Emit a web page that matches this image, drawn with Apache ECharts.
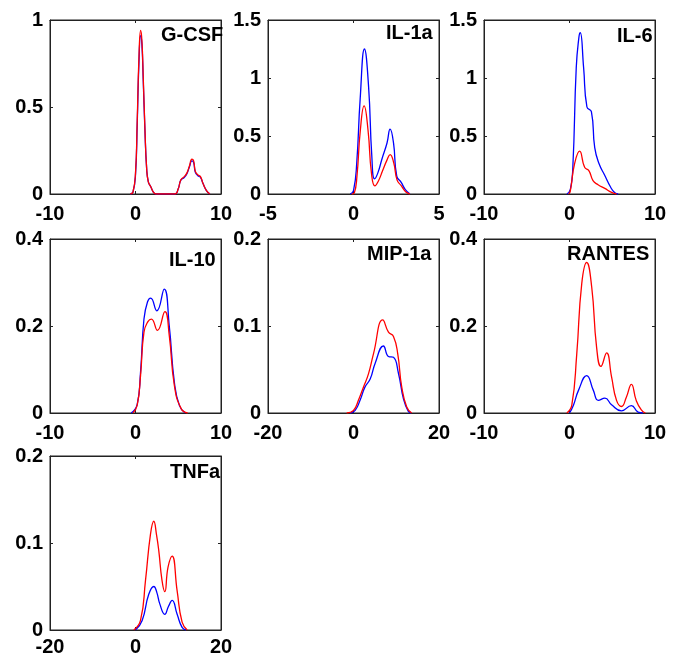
<!DOCTYPE html>
<html>
<head>
<meta charset="utf-8">
<script src="https://cdn.jsdelivr.net/npm/echarts@6/dist/echarts.min.js"></script>
<style>
  html, body { margin: 0; padding: 0; background: #fff; }
  #chart { width: 674px; height: 659px; }
</style>
</head>
<body>
<div id="chart"></div>
<script>
const panelNames = ["G-CSF", "IL-1a", "IL-6", "IL-10", "MIP-1a", "RANTES", "TNFa"];
const xRanges = [[-10, 10], [-5, 5], [-10, 10], [-10, 10], [-20, 20], [-10, 10], [-20, 20]];
const yMaxes = [1, 1.5, 1.5, 0.4, 0.2, 0.4, 0.2];
const yIntervals = [0.5, 0.5, 0.5, 0.2, 0.1, 0.2, 0.1];

// density curves, [x, y] pairs
const gcsfBlue = [[-0.6, 0], [-0.3, 0.01], [0, 0.11], [0.2, 0.4], [0.4, 0.75], [0.6, 0.91], [0.75, 0.86], [0.9, 0.66], [1.1, 0.37], [1.3, 0.15], [1.5, 0.07], [1.8, 0.04], [2.1, 0.01], [2.4, 0], [4.6, 0], [5.0, 0.03], [5.3, 0.08], [5.7, 0.095], [6.0, 0.115], [6.3, 0.155], [6.6, 0.19], [6.8, 0.18], [7.0, 0.125], [7.3, 0.105], [7.6, 0.095], [7.9, 0.06], [8.3, 0.02], [8.7, 0]];
const gcsfRed = [[-0.6, 0], [-0.3, 0.01], [0, 0.12], [0.2, 0.42], [0.4, 0.78], [0.6, 0.94], [0.75, 0.88], [0.9, 0.68], [1.1, 0.38], [1.3, 0.15], [1.5, 0.07], [1.8, 0.04], [2.1, 0.01], [2.4, 0], [4.6, 0], [5.0, 0.03], [5.3, 0.08], [5.7, 0.1], [6.0, 0.12], [6.3, 0.16], [6.6, 0.2], [6.8, 0.19], [7.0, 0.13], [7.3, 0.11], [7.6, 0.1], [7.9, 0.06], [8.3, 0.02], [8.7, 0]];

const il1aBlue = [[-0.2, 0], [0, 0.03], [0.19, 0.27], [0.39, 0.82], [0.64, 1.25], [0.88, 0.93], [1.07, 0.33], [1.23, 0.13], [1.42, 0.18], [1.66, 0.3], [1.96, 0.44], [2.14, 0.56], [2.34, 0.44], [2.53, 0.155], [2.79, 0.1], [3.02, 0.04], [3.3, 0]];
const il1aRed = [[-0.1, 0], [0.05, 0.01], [0.2, 0.15], [0.4, 0.55], [0.62, 0.76], [0.85, 0.55], [1.05, 0.18], [1.25, 0.07], [1.45, 0.11], [1.7, 0.2], [1.95, 0.29], [2.14, 0.34], [2.35, 0.27], [2.55, 0.12], [2.8, 0.07], [3.05, 0.02], [3.3, 0]];

const il6Blue = [[-0.3, 0], [0.1, 0.04], [0.39, 0.23], [0.79, 1.09], [1.1, 1.35], [1.26, 1.39], [1.65, 1.09], [2.04, 0.75], [2.56, 0.71], [2.95, 0.4], [3.46, 0.26], [4.13, 0.16], [4.8, 0.06], [5.3, 0.01], [5.7, 0]];
const il6Red = [[-0.1, 0], [0.08, 0.02], [0.59, 0.26], [1.18, 0.37], [1.77, 0.23], [2.28, 0.2], [2.75, 0.115], [3.34, 0.08], [4.13, 0.048], [4.92, 0.014], [5.5, 0]];

const il10Blue = [[-0.5, 0], [0.2, 0.02], [0.59, 0.094], [0.99, 0.216], [1.4, 0.255], [1.78, 0.264], [2.49, 0.235], [3.36, 0.285], [3.95, 0.2], [4.55, 0.07], [5.14, 0.017], [5.8, 0]];
const il10Red = [[-0.3, 0], [0.2, 0.018], [0.59, 0.086], [0.99, 0.186], [1.45, 0.21], [1.86, 0.216], [2.57, 0.19], [3.44, 0.233], [3.95, 0.178], [4.55, 0.063], [5.34, 0.01], [6.1, 0]];

const mip1aBlue = [[-0.8, 0], [0.39, 0.003], [1.56, 0.015], [2.7, 0.03], [3.9, 0.039], [5.05, 0.057], [7.0, 0.077], [8.18, 0.065], [9.35, 0.064], [10.5, 0.046], [11.7, 0.016], [12.8, 0.002], [13.5, 0]];
const mip1aRed = [[-1.6, 0], [0, 0.003], [1.17, 0.015], [2.34, 0.03], [3.5, 0.045], [4.67, 0.068], [6.85, 0.107], [8.18, 0.093], [9.35, 0.088], [10.35, 0.068], [11.28, 0.03], [12.45, 0.007], [13.6, 0]];

const rantesBlue = [[0, 0], [0.46, 0.018], [1.05, 0.052], [2.01, 0.086], [2.79, 0.052], [3.37, 0.029], [4.14, 0.034], [4.92, 0.019], [6.08, 0.005], [7.24, 0.017], [8.02, 0.002], [8.6, 0]];
const rantesRed = [[-0.31, 0], [0.27, 0.018], [0.85, 0.136], [1.43, 0.297], [2.01, 0.346], [2.6, 0.289], [3.17, 0.151], [3.68, 0.107], [4.34, 0.138], [4.92, 0.083], [5.5, 0.029], [6.08, 0.015], [6.66, 0.037], [7.24, 0.066], [7.8, 0.029], [8.4, 0.007], [8.87, 0]];

const tnfaBlue = [[0, 0], [1.56, 0.011], [3.1, 0.041], [4.28, 0.05], [5.0, 0.043], [5.68, 0.03], [6.85, 0.018], [7.7, 0.027], [8.57, 0.034], [9.74, 0.018], [10.9, 0.003], [11.8, 0]];
const tnfaRed = [[-0.4, 0], [1.17, 0.011], [2.34, 0.057], [3.5, 0.11], [4.28, 0.125], [4.9, 0.11], [5.45, 0.091], [6.2, 0.057], [6.85, 0.044], [7.6, 0.072], [8.57, 0.085], [9.74, 0.045], [10.9, 0.009], [12.1, 0]];

const blueCurves = [gcsfBlue, il1aBlue, il6Blue, il10Blue, mip1aBlue, rantesBlue, tnfaBlue];
const redCurves = [gcsfRed, il1aRed, il6Red, il10Red, mip1aRed, rantesRed, tnfaRed];

// layout of the 3x3 panel grid
const colLefts = [50, 268, 484];
const rowTops = [20, 239, 456];
const xLabelMargins = [10, 10, 7];
const boxW = 171;
const boxH = 174;
const titlePos = [[161, 25], [386, 23], [617, 26], [169, 250], [367, 244], [567, 244], [170, 462]];

const font = "Liberation Sans";
const chart = echarts.init(document.getElementById("chart"));

const grids = [];
const xAxes = [];
const yAxes = [];
const series = [];
const titles = [];

panelNames.forEach((name, i) => {
  const col = i % 3;
  const row = Math.floor(i / 3);
  grids.push({
    left: colLefts[col],
    top: rowTops[row],
    width: boxW,
    height: boxH,
    show: true,
    borderColor: "#222",
    borderWidth: 1,
    backgroundColor: "#fff",
  });

  const xr = xRanges[i];
  const xInt = (xr[1] - xr[0]) / 2;
  const common = {
    axisLine: { show: true, onZero: false, lineStyle: { color: "#222", width: 1 } },
    axisTick: { show: true, inside: true, length: 3, lineStyle: { color: "#222" } },
    splitLine: { show: false },
  };
  const labelStyle = {
    color: "#000",
    fontFamily: font,
    fontWeight: "bold",
    fontSize: 20,
  };

  xAxes.push({
    ...common,
    type: "value",
    gridIndex: i,
    min: xr[0],
    max: xr[1],
    interval: xInt,
    position: "bottom",
    axisLabel: { ...labelStyle, margin: xLabelMargins[row] },
  });
  xAxes.push({
    ...common,
    type: "value",
    gridIndex: i,
    min: xr[0],
    max: xr[1],
    interval: xInt,
    position: "top",
    axisLabel: { show: false },
  });
  yAxes.push({
    ...common,
    type: "value",
    gridIndex: i,
    min: 0,
    max: yMaxes[i],
    interval: yIntervals[i],
    position: "left",
    axisLabel: { ...labelStyle, margin: 7 },
  });
  yAxes.push({
    ...common,
    type: "value",
    gridIndex: i,
    min: 0,
    max: yMaxes[i],
    interval: yIntervals[i],
    position: "right",
    axisLabel: { show: false },
  });

  series.push({
    type: "line",
    xAxisIndex: i * 2,
    yAxisIndex: i * 2,
    data: blueCurves[i],
    smooth: 0.5,
    showSymbol: false,
    lineStyle: { color: "#0000ff", width: 1.3 },
    itemStyle: { color: "#0000ff" },
    z: 2,
  });
  series.push({
    type: "line",
    xAxisIndex: i * 2,
    yAxisIndex: i * 2,
    data: redCurves[i],
    smooth: 0.5,
    showSymbol: false,
    lineStyle: { color: "#ff0000", width: 1.3 },
    itemStyle: { color: "#ff0000" },
    z: 3,
  });

  titles.push({
    text: name,
    left: titlePos[i][0],
    top: titlePos[i][1],
    padding: 0,
    textStyle: {
      color: "#000",
      fontFamily: font,
      fontWeight: "bold",
      fontSize: 20,
    },
  });
});

chart.setOption({
  animation: false,
  backgroundColor: "#fff",
  title: titles,
  grid: grids,
  xAxis: xAxes,
  yAxis: yAxes,
  series: series,
});
</script>
</body>
</html>
